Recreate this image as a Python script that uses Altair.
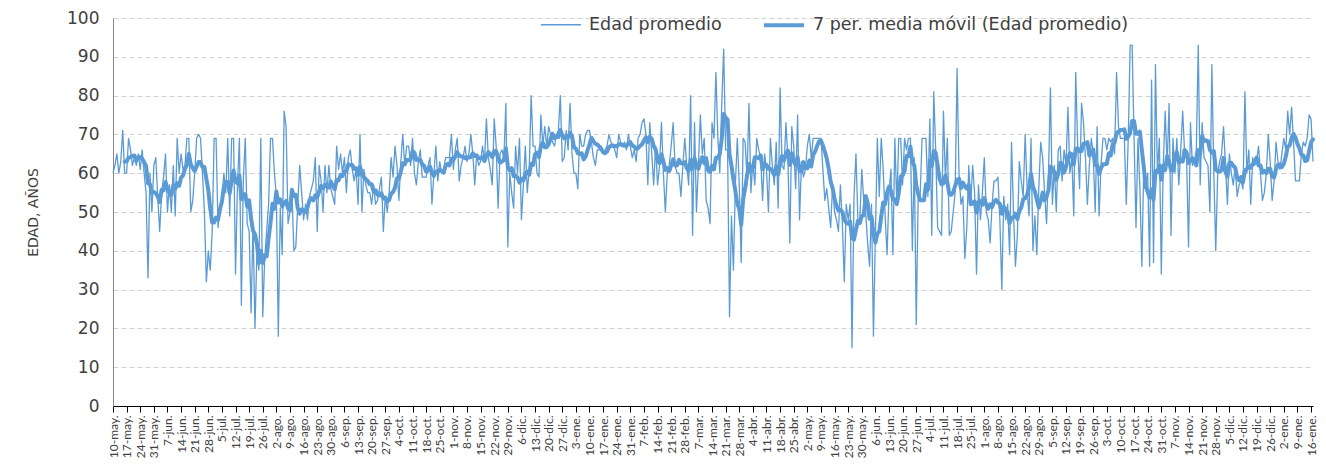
import altair as alt
import pandas as pd

# ---------------- data (daily average age) ----------------
START = "2020-05-10"

edad_2020_may_jun = [
    60, 62, 65, 60, 63, 71, 60, 60, 69, 66,
    62, 64, 62, 65, 61, 66, 60, 55, 33, 60,
    50, 62, 64, 54, 45, 55, 59, 65, 50, 57,
    50, 62, 49, 69, 60, 65, 61, 62, 69, 69,
    50, 53, 60, 69, 70, 69, 60, 50, 32, 40,
]
edad_2020_jun_ago = [
    35, 45, 69, 69, 46, 51, 54, 60, 55, 69,
    49, 69, 69, 34, 57, 69, 26, 58, 69, 47,
    45, 24, 47, 20, 40, 35, 69, 23, 38, 45,
    52, 69, 69, 60, 54, 18, 51, 39, 76, 72,
    47, 50, 55, 40, 41, 52, 62, 55, 48, 52,
]
edad_2020_ago_oct = [
    48, 54, 56, 58, 64, 45, 62, 58, 50, 62,
    55, 62, 56, 54, 52, 67, 61, 65, 60, 64,
    55, 64, 66, 61, 58, 61, 52, 70, 50, 61,
    57, 55, 55, 52, 57, 52, 53, 56, 59, 45,
    54, 50, 55, 64, 59, 67, 62, 53, 63, 70,
]
edad_2020_oct_nov = [
    62, 67, 67, 62, 69, 60, 57, 63, 66, 59,
    59, 59, 62, 64, 52, 60, 67, 58, 63, 60,
    61, 64, 64, 64, 70, 61, 66, 69, 58, 62,
    64, 67, 63, 65, 70, 65, 57, 65, 62, 63,
    67, 63, 74, 64, 61, 57, 74, 67, 51, 65,
]
edad_2020_nov_2021_ene = [
    66, 64, 78, 41, 60, 55, 51, 67, 60, 69,
    48, 57, 67, 55, 61, 80, 67, 67, 60, 59,
    75, 67, 72, 67, 72, 70, 68, 67, 70, 71,
    80, 63, 64, 71, 66, 78, 65, 60, 60, 56,
    70, 67, 67, 70, 71, 71, 68, 64, 62, 66,
]
edad_2021_ene_mar = [
    66, 67, 65, 66, 67, 70, 68, 67, 66, 64,
    70, 68, 67, 68, 66, 70, 67, 64, 66, 63,
    69, 70, 73, 74, 70, 57, 73, 65, 57, 67,
    57, 62, 73, 60, 50, 60, 62, 67, 73, 62,
    60, 60, 54, 62, 69, 62, 57, 80, 44, 73,
]
edad_2021_mar_may = [
    50, 62, 75, 65, 69, 53, 51, 47, 73, 69,
    86, 69, 60, 78, 92, 66, 66, 23, 49, 35,
    57, 69, 57, 37, 69, 68, 59, 78, 55, 63,
    57, 69, 66, 64, 53, 65, 61, 50, 69, 62,
    57, 68, 51, 82, 62, 61, 73, 64, 42, 72,
]
edad_2021_abr_jun = [
    67, 56, 75, 48, 63, 59, 61, 67, 70, 64,
    69, 69, 69, 69, 69, 61, 53, 56, 51, 46,
    57, 50, 48, 45, 57, 47, 32, 52, 48, 52,
    15, 54, 65, 48, 48, 61, 53, 50, 42, 36,
    52, 18, 44, 69, 54, 69, 61, 49, 39, 55,
]
edad_2021_jun_ago = [
    61, 39, 69, 52, 69, 69, 57, 69, 66, 69,
    69, 40, 64, 21, 54, 54, 69, 69, 69, 54,
    74, 44, 81, 66, 46, 45, 44, 76, 58, 69,
    44, 45, 50, 55, 87, 60, 52, 54, 38, 46,
    62, 52, 62, 55, 34, 57, 48, 55, 64, 50,
]
edad_2021_ago_sep = [
    48, 42, 52, 58, 58, 59, 48, 30, 54, 48,
    52, 39, 68, 50, 36, 44, 63, 58, 54, 70,
    56, 49, 69, 40, 49, 39, 56, 68, 64, 55,
    47, 60, 82, 52, 62, 50, 66, 67, 58, 66,
    62, 77, 60, 64, 49, 86, 67, 56, 78, 73,
]
edad_2021_sep_nov = [
    64, 52, 62, 69, 65, 50, 72, 49, 62, 69,
    69, 66, 69, 68, 69, 65, 86, 72, 69, 69,
    69, 52, 69, 93, 93, 69, 46, 69, 56, 36,
    62, 57, 60, 36, 84, 37, 88, 60, 69, 34,
    62, 76, 62, 78, 44, 69, 60, 69, 57, 66,
]
edad_2021_nov_2022_ene = [
    76, 65, 64, 41, 73, 62, 63, 66, 93, 57,
    73, 64, 63, 62, 50, 88, 60, 40, 60, 63,
    65, 72, 62, 52, 65, 60, 57, 62, 54, 57,
    58, 56, 81, 60, 66, 52, 64, 62, 63, 67,
    60, 53, 55, 60, 70, 63, 53, 58, 68, 63,
    61, 65, 69, 66, 76, 70, 77, 68, 58, 58,
    58, 65, 68, 67, 69, 75, 74, 63,
]

TICK_LABELS = [
    "10-may.", "17-may.", "24-may.", "31-may.", "7-jun.", "14-jun.", "21-jun.", "28-jun.",
    "5-jul.", "12-jul.", "19-jul.", "26-jul.", "2-ago.", "9-ago.", "16-ago.", "23-ago.",
    "30-ago.", "6-sep.", "13-sep.", "20-sep.", "27-sep.", "4-oct.", "11-oct.", "18-oct.",
    "25-oct.", "1-nov.", "8-nov.", "15-nov.", "22-nov.", "29-nov.", "6-dic.", "13-dic.",
    "20-dic.", "27-dic.", "3-ene.", "10-ene.", "17-ene.", "24-ene.", "31-ene.", "7-feb.",
    "14-feb.", "21-feb.", "28-feb.", "7-mar.", "14-mar.", "21-mar.", "28-mar.", "4-abr.",
    "11-abr.", "18-abr.", "25-abr.", "2-may.", "9-may.", "16-may.", "23-may.", "30-may.",
    "6-jun.", "13-jun.", "20-jun.", "27-jun.", "4-jul.", "11-jul.", "18-jul.", "25-jul.",
    "1-ago.", "8-ago.", "15-ago.", "22-ago.", "29-ago.", "5-sep.", "12-sep.", "19-sep.",
    "26-sep.", "3-oct.", "10-oct.", "17-oct.", "24-oct.", "31-oct.", "7-nov.", "14-nov.",
    "21-nov.", "28-nov.", "5-dic.", "12-dic.", "19-dic.", "26-dic.", "2-ene.", "9-ene.",
    "16-ene.",
]

SERIES = ["Edad promedio", "7 per. media móvil (Edad promedio)"]
BLUE = "#5B9BD5"
FONT = "Lato"
WIDE = "DejaVu Sans"
TEXT = "#404040"

# ---------------- build table ----------------
edad = (edad_2020_may_jun + edad_2020_jun_ago + edad_2020_ago_oct + edad_2020_oct_nov
        + edad_2020_nov_2021_ene + edad_2021_ene_mar + edad_2021_mar_may + edad_2021_abr_jun
        + edad_2021_jun_ago + edad_2021_ago_sep + edad_2021_sep_nov + edad_2021_nov_2022_ene)

DAY = 86400000
t0 = int(pd.Timestamp(START).value // 10**6)
dates = [t0 + i * DAY for i in range(len(edad))]
df = pd.DataFrame({"t": dates, "edad": edad})

tick_values = [t0 + 7 * i * DAY for i in range(len(TICK_LABELS))]
label_arr = "[" + ",".join("'" + s + "'" for s in TICK_LABELS) + "]"
label_expr = f"{label_arr}[round((datum.value - {t0}) / {7 * DAY})]"

x_enc = alt.X(
    "t:T",
    scale=alt.Scale(type="utc", domain=[t0, dates[-1]]),
    axis=alt.Axis(
        values=tick_values, labelExpr=label_expr, labelAngle=-90, labelAlign="right",
        labelBaseline="middle", labelFontSize=12, labelFont=FONT, labelColor=TEXT,
        labelPadding=3, ticks=True, tickSize=6, tickColor="#000000", domainColor="#000000",
        grid=False, title=None, labelOverlap=False, labelBound=False, labelFlush=False,
    ),
)

y_axis = alt.Axis(
    values=list(range(0, 101, 10)), labelFontSize=17, labelFont=WIDE, labelColor=TEXT,
    labelPadding=14, ticks=False, grid=True, gridDash=[5, 3], gridColor="#D0D0D0",
    domainColor="#868686", title="EDAD, AÑOS", titleFont=WIDE, titleFontSize=14,
    titleFontWeight="normal", titleColor=TEXT, titlePadding=26,
)
y_scale = alt.Scale(domain=[0, 100], nice=False)

legend = alt.Legend(
    orient="none", legendX=427, legendY=-15, direction="horizontal", title=None,
    symbolType="stroke", symbolSize=1600, labelFontSize=17.5, labelFont=WIDE,
    labelColor=TEXT, columnPadding=34, labelOffset=7, labelLimit=0,
)
color_enc = alt.Color("serie:N", scale=alt.Scale(domain=SERIES, range=[BLUE, BLUE]), legend=legend)
width_enc = alt.StrokeWidth("serie:N", scale=alt.Scale(domain=SERIES, range=[1.3, 4]), legend=legend)

base = alt.Chart(df)

raw = base.transform_calculate(serie=f"'{SERIES[0]}'").mark_line(strokeJoin="round").encode(
    x=x_enc,
    y=alt.Y("edad:Q", scale=y_scale, axis=y_axis),
    color=color_enc,
    strokeWidth=width_enc,
)

ma = (
    base.transform_window(ma="mean(edad)", n="count()", frame=[-6, 0], sort=[alt.SortField("t")])
    .transform_filter("datum.n >= 7")
    .transform_calculate(serie=f"'{SERIES[1]}'")
    .mark_line(strokeJoin="round", strokeCap="round")
    .encode(
        x=x_enc,
        y=alt.Y("ma:Q", scale=y_scale, axis=y_axis),
        color=color_enc,
        strokeWidth=width_enc,
    )
)

chart = (
    alt.layer(raw, ma)
    .properties(
        width=1200, height=388,
        autosize=alt.AutoSizeParams(type="none"),
        padding={"left": 105, "top": 10, "right": 5, "bottom": 57},
        background="white",
    )
    .configure_view(stroke=None)
)

chart.save("out.html", embed_options={"renderer": "svg", "actions": False})
